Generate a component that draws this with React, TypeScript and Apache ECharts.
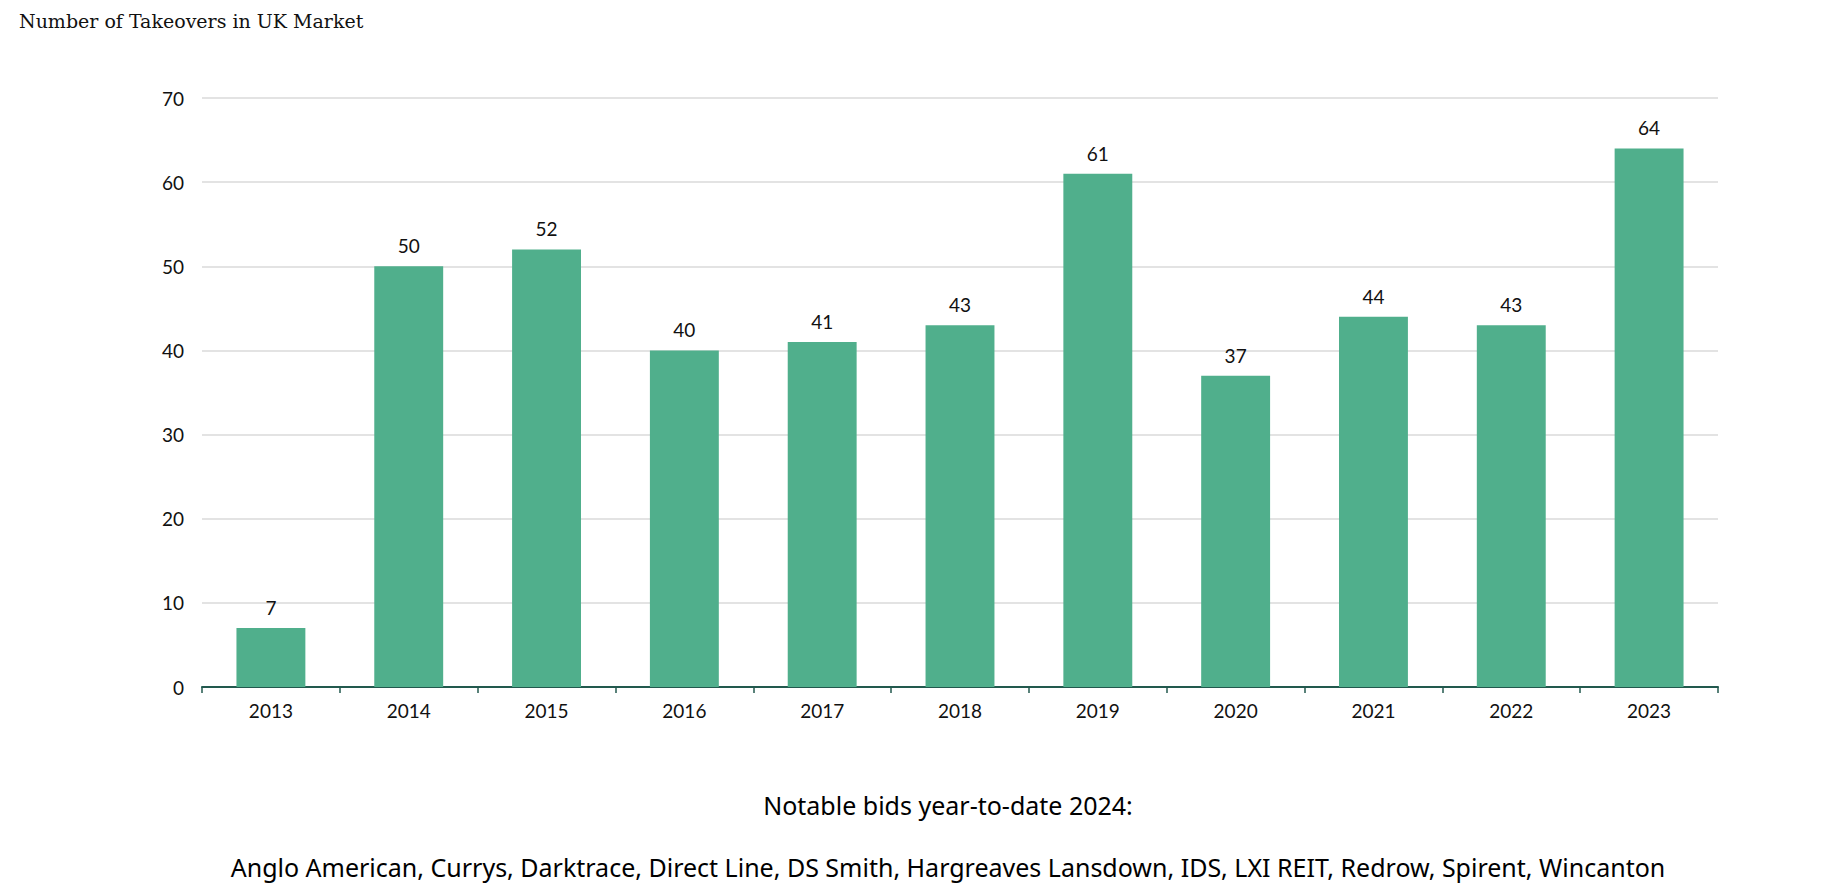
import React, { useEffect, useRef } from "react";
import * as echarts from "echarts";

const years = ["2013", "2014", "2015", "2016", "2017", "2018", "2019", "2020", "2021", "2022", "2023"];
const takeovers = [7, 50, 52, 40, 41, 43, 61, 37, 44, 43, 64];
const titleText = "Number of Takeovers in UK Market";
const noteHeading = "Notable bids year-to-date 2024:";
const noteBody = "Anglo American, Currys, Darktrace, Direct Line, DS Smith, Hargreaves Lansdown, IDS, LXI REIT, Redrow, Spirent, Wincanton";

export default function App() {
  const ref = useRef<HTMLDivElement>(null);
  useEffect(() => {
    document.body.style.margin = "0";
    const chart = echarts.init(ref.current!, null, { renderer: "svg" });
    chart.setOption({
      animation: false,
      backgroundColor: "#ffffff",
      grid: { left: 202, right: 128, top: 98, bottom: 209 },
      xAxis: {
        type: "category",
        data: years,
        axisLine: { lineStyle: { color: "#22594e", width: 2 } },
        axisTick: { show: true, length: 6, lineStyle: { color: "#22594e", width: 1.5 } },
        axisLabel: { color: "#111", fontFamily: "Lato", fontSize: 19, margin: 14 },
      },
      yAxis: {
        type: "value",
        min: 0,
        max: 70,
        interval: 10,
        axisLine: { show: false },
        axisTick: { show: false },
        splitLine: { lineStyle: { color: "#dadada", width: 1.5 } },
        axisLabel: { color: "#111", fontFamily: "Lato", fontSize: 19, margin: 18 },
      },
      series: [
        {
          type: "bar",
          data: takeovers,
          barCategoryGap: "50%",
          itemStyle: { color: "#50af8c" },
          label: {
            show: true,
            position: "top",
            distance: 11,
            color: "#111",
            fontFamily: "Lato",
            fontSize: 19,
          },
        },
      ],
      graphic: [
        {
          type: "text",
          left: 19,
          top: 11,
          style: { text: titleText, font: "19px 'DejaVu Serif'", fill: "#111" },
        },
        {
          type: "text",
          x: 948,
          y: 805,
          style: {
            text: noteHeading,
            font: "25px 'Noto Sans'",
            fill: "#000",
            textAlign: "center",
            textVerticalAlign: "middle",
          },
        },
        {
          type: "text",
          x: 948,
          y: 867,
          style: {
            text: noteBody,
            font: "25px 'Noto Sans'",
            fill: "#000",
            textAlign: "center",
            textVerticalAlign: "middle",
          },
        },
      ],
    });
    return () => chart.dispose();
  }, []);
  return <div ref={ref} style={{ width: 1846, height: 896 }} />;
}
